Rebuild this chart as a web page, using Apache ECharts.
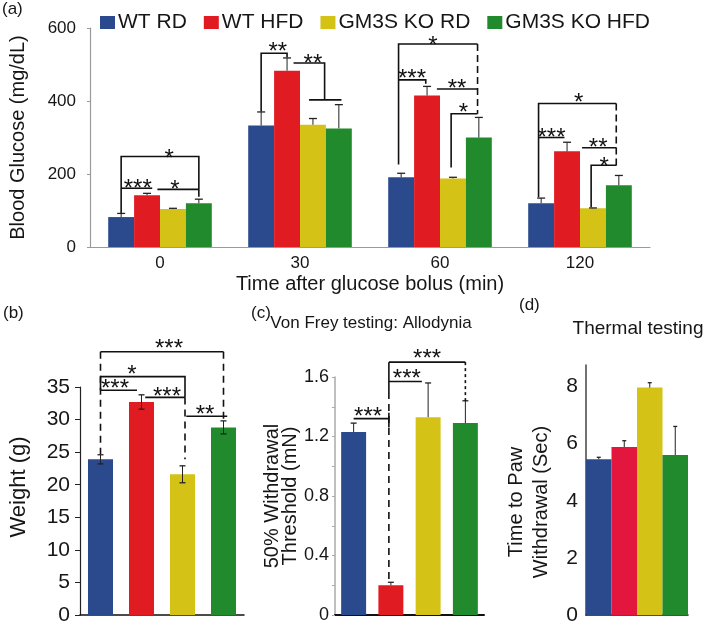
<!DOCTYPE html>
<html><head><meta charset="utf-8">
<script src="https://cdn.jsdelivr.net/npm/echarts@6/dist/echarts.min.js"></script>
<style>html,body{margin:0;padding:0;background:#fff}#c{width:707px;height:628px}</style>
</head><body><div id="c"></div>
<script>
// ---------- Panel (a): blood glucose ----------
const CATS_A = ['0', '30', '60', '120'];
const SERIES_NAMES = ['WT RD', 'WT HFD', 'GM3S KO RD', 'GM3S KO HFD'];
const WT_RD = [82, 333, 191, 120];
const WT_RD_ERR = [10, 37, 11, 14];
const WT_HFD = [142, 483, 415, 262];
const WT_HFD_ERR = [5, 35, 25, 25];
const KO_RD = [104, 335, 188, 106];
const KO_RD_ERR = [2, 17, 3, 1];
const KO_HFD = [120, 325, 300, 169];
const KO_HFD_ERR = [11, 65, 55, 27];
// significance brackets: points as [category, offset in bar widths, value]
const A_BRACKETS = [
  {pts: [[0,-1.5,93],[0,-1.5,248],[0,1.5,248],[0,1.5,138]]},
  {pts: [[0,-1.5,161],[0,-0.3,161]]},
  {pts: [[0,-0.1,158],[0,1.5,158]]},
  {pts: [[1,-1.5,371],[1,-1.5,531],[1,-0.5,531],[1,-0.5,520]]},
  {pts: [[1,-0.25,504],[1,0.95,504],[1,0.95,403]]},
  {pts: [[1,0.35,403],[1,1.6,403]]},
  {pts: [[2,-1.6,226],[2,-1.6,556],[2,1.45,556]]},
  {pts: [[2,1.45,556],[2,1.45,365]], dash: [7,4]},
  {pts: [[2,-1.6,458],[2,-0.55,458],[2,-0.55,447]]},
  {pts: [[2,-0.12,433],[2,1.45,433]]},
  {pts: [[2,0.43,218],[2,0.43,365],[2,1.45,365]]},
  {pts: [[3,-1.6,136],[3,-1.6,393],[3,1.4,393]]},
  {pts: [[3,1.4,393],[3,1.4,221]], dash: [7,4]},
  {pts: [[3,-1.6,300],[3,-0.6,300]]},
  {pts: [[3,0.08,272],[3,1.4,272]]},
  {pts: [[3,0.43,109],[3,0.43,224],[3,1.4,224]]}
];
const A_LABELS = [
  [0,0.35,259,'*'], [0,-0.86,177,'***'], [0,0.58,174,'*'],
  [1,-0.86,551,'**'], [1,0.5,518,'**'],
  [2,-0.27,567,'*'], [2,-1.08,477,'***'], [2,0.66,450,'**'], [2,0.9,385,'*'],
  [3,-0.05,410,'*'], [3,-1.1,314,'***'], [3,0.7,287,'**'], [3,0.93,235,'*']
];

// ---------- Panel (b): weight ----------
const WEIGHT = [23.9, 32.7, 21.6, 28.8];
const WEIGHT_ERR = [0.7, 1.1, 1.3, 1.0];
const B_BRACKETS = [
  {pts: [[0,0,40.4],[3,0,40.4]]},
  {pts: [[0,0,40.4],[0,0,24.7]], dash: [7,5]},
  {pts: [[0,0,36.6],[0,0,34.5]]},
  {pts: [[3,0,40.4],[3,0,29.4]], dash: [7,5]},
  {pts: [[0,0,36.6],[2,0.1,36.6],[2,0.1,33.4]]},
  {pts: [[2,0.1,33.4],[2,0.1,23.9]], dash: [7,5]},
  {pts: [[0,0,34.5],[1,-0.18,34.5]]},
  {pts: [[1,0.15,33.4],[2,0.1,33.4]]},
  {pts: [[2,0.15,30.5],[3,0.15,30.5]]}
];
const B_LABELS = [
  [2,-0.54,41.75,'***'], [1,-0.38,37.8,'*'], [0,0.58,35.6,'***'],
  [1,1.02,34.4,'***'], [2,0.9,31.6,'**']
];

// ---------- Panel (c): von Frey ----------
const THRESHOLD = [1.23, 0.20, 1.33, 1.29];
const THRESHOLD_ERR = [0.06, 0.02, 0.23, 0.15];
const C_BRACKETS = [
  {pts: [[1,-0.08,1.70],[3,0,1.70]]},
  {pts: [[3,0,1.70],[3,0,1.43]], dash: [3,3]},
  {pts: [[1,-0.08,1.70],[1,-0.08,1.50]]},
  {pts: [[1,-0.08,1.50],[1,-0.08,0.23]], dash: [7,5]},
  {pts: [[1,-0.08,1.36],[1,-0.08,1.26]]},
  {pts: [[1,-0.08,1.57],[2,-0.25,1.57]]},
  {pts: [[0,0,1.32],[1,-0.08,1.32]]}
];
const C_LABELS = [
  [2,-0.04,1.762,'***'], [1,0.64,1.627,'***'], [0,0.58,1.372,'***']
];

// ---------- Panel (d): thermal ----------
const PAW_TIME = [5.45, 5.88, 7.96, 5.6];
const PAW_TIME_ERR = [0.07, 0.22, 0.17, 1.0];
const D_TICKS = [0, 2, 4, 6, 8];

const COLORS = ['#2b4a8d', '#e11b22', '#d5c216', '#218a2c'];
const COLORS_D = ['#2b4a8d', '#e3173d', '#d5c216', '#218a2c'];
const FONT = 'Liberation Sans, Arial, sans-serif';
const TXT = '#161616';
const GAP = {a: 0.26, b: 0.39, c: 0.33, d: 0};
const STAR_FS = 24;

function barX(api, cat, off, gap, n) {
  const band = api.size([1, 0])[0];
  const bw = band * (1 - gap) / n;
  return api.coord([cat, 0])[0] + off * bw;
}

function errSeries(axis, data, gap, n, both, cap) {
  return {
    type: 'custom', xAxisIndex: axis, yAxisIndex: axis, z: 5,
    encode: {x: 0, y: 2},
    data: data,
    renderItem: function (params, api) {
      const g = api.value(0), i = api.value(1), v = api.value(2), e = api.value(3);
      const x = barX(api, g, i - (n - 1) / 2, gap, n);
      const yt = api.coord([g, v + e])[1];
      const yb = both ? api.coord([g, v - e])[1] : api.coord([g, v])[1];
      const ch = [
        {type: 'line', shape: {x1: x, y1: yb, x2: x, y2: yt}, style: {stroke: '#222', lineWidth: 1}},
        {type: 'line', shape: {x1: x - cap, y1: yt, x2: x + cap, y2: yt}, style: {stroke: '#222', lineWidth: 1.3}}
      ];
      if (both) ch.push({type: 'line', shape: {x1: x - cap, y1: yb, x2: x + cap, y2: yb}, style: {stroke: '#222', lineWidth: 1.3}});
      return {type: 'group', children: ch};
    }
  };
}

function bracketSeries(axis, list, gap, n) {
  return {
    type: 'custom', xAxisIndex: axis, yAxisIndex: axis, z: 6, clip: false,
    encode: {x: 0, y: 1},
    data: list.map(b => [b.pts[0][0], b.pts[0][2]]),
    renderItem: function (params, api) {
      const b = list[params.dataIndex];
      const points = b.pts.map(p => [barX(api, p[0], p[1], gap, n), api.coord([p[0], p[2]])[1]]);
      return {type: 'polyline', shape: {points: points},
        style: {stroke: '#111', lineWidth: 1.6, fill: null, lineDash: b.dash || null}};
    }
  };
}

function labelSeries(axis, list, gap, n) {
  return {
    type: 'custom', xAxisIndex: axis, yAxisIndex: axis, z: 6, clip: false,
    encode: {x: 0, y: 2},
    data: list.map(l => [l[0], l[1], l[2]]),
    renderItem: function (params, api) {
      const l = list[params.dataIndex];
      const x = barX(api, l[0], l[1], gap, n);
      const y = api.coord([l[0], l[2]])[1] + 0.27 * STAR_FS;
      return {type: 'text', x: x, y: y,
        style: {text: l[3], fontSize: STAR_FS, fontFamily: FONT, fill: '#111', align: 'center', verticalAlign: 'middle'}};
    }
  };
}

const aVals = [WT_RD, WT_HFD, KO_RD, KO_HFD];
const aErrs = [WT_RD_ERR, WT_HFD_ERR, KO_RD_ERR, KO_HFD_ERR];
const aErrData = [];
aVals.forEach((arr, s) => arr.forEach((v, g) => aErrData.push([g, s, v, aErrs[s][g]])));

function singleErr(vals, errs) { return vals.map((v, g) => [g, 0, v, errs[g]]); }
const EMPTY4 = ['', '', '', ''];

const chart = echarts.init(document.getElementById('c'), null, {renderer: 'canvas'});
const ttl = (text, left, top, fs, align) => ({text, left, top, padding: 0, textAlign: align || 'left',
  textStyle: {fontSize: fs, fontWeight: 'normal', color: TXT, fontFamily: FONT}});

chart.setOption({
  animation: false,
  textStyle: {fontFamily: FONT},
  title: [
    ttl('(a)', 2, 1, 17), ttl('(b)', 3, 305, 17), ttl('(c)', 251, 305, 17), ttl('(d)', 519, 297, 17),
    ttl('Von Frey testing: Allodynia', 371, 315, 17, 'center'),
    ttl('Thermal testing', 638, 319, 19, 'center')
  ],
  legend: {
    data: SERIES_NAMES, left: 100, top: 12, padding: 0, icon: 'rect', itemWidth: 15, itemHeight: 13, itemGap: 17,
    textStyle: {fontSize: 21, color: TXT, fontFamily: FONT, padding: [0, 0, 0, -2]}
  },
  grid: [
    {left: 88, top: 28, width: 562, height: 219},
    {left: 80, top: 387, width: 164, height: 228},
    {left: 335, top: 377, width: 149, height: 238},
    {left: 586, top: 365, width: 102, height: 250}
  ],
  xAxis: [
    {gridIndex: 0, type: 'category', data: CATS_A,
      axisLine: {lineStyle: {color: '#9a9a9a', width: 1.2}}, axisTick: {show: false},
      axisLabel: {fontSize: 17, color: TXT, margin: 8},
      name: 'Time after glucose bolus (min)', nameLocation: 'middle', nameGap: 27,
      nameTextStyle: {fontSize: 20, color: TXT}},
    {gridIndex: 1, type: 'category', data: EMPTY4,
      axisLine: {lineStyle: {color: '#111', width: 1.5}}, axisTick: {show: false}, axisLabel: {show: false}},
    {gridIndex: 2, type: 'category', data: EMPTY4,
      axisLine: {lineStyle: {color: '#111', width: 2}}, axisTick: {show: false}, axisLabel: {show: false}},
    {gridIndex: 3, type: 'category', data: EMPTY4,
      axisLine: {lineStyle: {color: '#111', width: 1.5}}, axisTick: {show: false}, axisLabel: {show: false}}
  ],
  yAxis: [
    {gridIndex: 0, type: 'value', min: 0, max: 600, interval: 200,
      axisLine: {show: true, lineStyle: {color: '#9a9a9a', width: 1.2}},
      axisTick: {show: true, length: 3, lineStyle: {color: '#9a9a9a'}},
      splitLine: {show: false},
      axisLabel: {fontSize: 17, color: TXT, margin: 14},
      name: 'Blood Glucose (mg/dL)', nameLocation: 'middle', nameGap: 62,
      nameTextStyle: {fontSize: 20, color: TXT}},
    {gridIndex: 1, type: 'value', min: 0, max: 35, interval: 5,
      axisLine: {show: true, lineStyle: {color: '#222', width: 1.2}},
      axisTick: {show: true, length: 5, lineStyle: {color: '#222'}},
      splitLine: {show: false},
      axisLabel: {fontSize: 21, color: TXT, margin: 10},
      name: 'Weight (g)', nameLocation: 'middle', nameGap: 50,
      nameTextStyle: {fontSize: 22, color: TXT, padding: [0, 0, 0, 28]}},
    {gridIndex: 2, type: 'value', min: 0, max: 1.6, interval: 0.2,
      axisLine: {show: true, lineStyle: {color: '#aaaaaa', width: 1.5}},
      axisTick: {show: true, length: 3, lineStyle: {color: '#aaaaaa'}},
      splitLine: {show: false},
      axisLabel: {fontSize: 18, color: TXT, margin: 6,
        formatter: v => { const k = Math.round(v * 10); return k % 4 === 0 ? (k === 0 ? '0' : (k / 10).toFixed(1)) : ''; }},
      name: '50% Withdrawal\nThreshold (mN)', nameLocation: 'middle', nameGap: 36,
      nameTextStyle: {fontSize: 20, color: TXT, lineHeight: 18}},
    {gridIndex: 3, type: 'value', min: 0, max: 8.75,
      axisLine: {show: true, lineStyle: {color: '#444', width: 1.5}},
      axisTick: {show: false, customValues: D_TICKS},
      splitLine: {show: false},
      axisLabel: {fontSize: 21, color: TXT, margin: 8, customValues: D_TICKS},
      name: 'Time to Paw\nWithdrawal (Sec)', nameLocation: 'middle', nameGap: 32,
      nameTextStyle: {fontSize: 20, color: TXT, lineHeight: 25, padding: [0, 24, 0, 0]}}
  ],
  series: [
    ...aVals.map((arr, s) => ({
      type: 'bar', name: SERIES_NAMES[s], data: arr, xAxisIndex: 0, yAxisIndex: 0,
      barGap: '0%', barCategoryGap: (GAP.a * 100) + '%', itemStyle: {color: COLORS[s]}
    })),
    errSeries(0, aErrData, GAP.a, 4, false, 4),
    bracketSeries(0, A_BRACKETS, GAP.a, 4),
    labelSeries(0, A_LABELS, GAP.a, 4),

    {type: 'bar', name: 'Weight', xAxisIndex: 1, yAxisIndex: 1, barCategoryGap: (GAP.b * 100) + '%',
      data: WEIGHT.map((v, i) => ({value: v, itemStyle: {color: COLORS[i]}}))},
    errSeries(1, singleErr(WEIGHT, WEIGHT_ERR), GAP.b, 1, true, 3),
    bracketSeries(1, B_BRACKETS, GAP.b, 1),
    labelSeries(1, B_LABELS, GAP.b, 1),

    {type: 'bar', name: 'Threshold', xAxisIndex: 2, yAxisIndex: 2, barCategoryGap: (GAP.c * 100) + '%',
      data: THRESHOLD.map((v, i) => ({value: v, itemStyle: {color: COLORS[i]}}))},
    errSeries(2, singleErr(THRESHOLD, THRESHOLD_ERR), GAP.c, 1, false, 3),
    bracketSeries(2, C_BRACKETS, GAP.c, 1),
    labelSeries(2, C_LABELS, GAP.c, 1),

    {type: 'bar', name: 'Paw', xAxisIndex: 3, yAxisIndex: 3, barCategoryGap: '0%',
      data: PAW_TIME.map((v, i) => ({value: v, itemStyle: {color: COLORS_D[i]}}))},
    errSeries(3, singleErr(PAW_TIME, PAW_TIME_ERR), GAP.d, 1, false, 2)
  ]
});
</script></body></html>
